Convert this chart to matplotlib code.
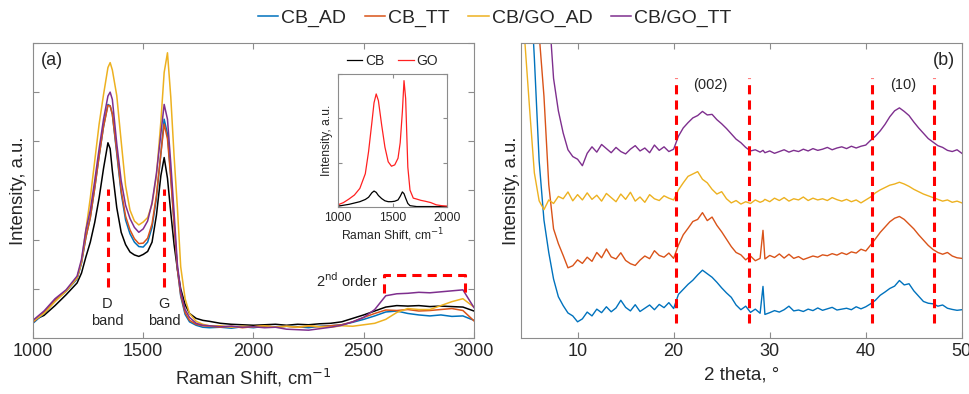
import numpy as np
import matplotlib
matplotlib.use("Agg")
import matplotlib.pyplot as plt

plt.rcParams['font.family'] = ['Liberation Sans', 'DejaVu Sans']

# ---------------- Raman (panel a) ----------------
raman_x = [1000, 1050, 1100, 1150, 1200, 1220, 1240, 1260, 1280, 1300, 1320, 1340, 1350, 1360,
           1380, 1400, 1420, 1440, 1460, 1480, 1500, 1520, 1540, 1560, 1580, 1595, 1610, 1625,
           1640, 1655, 1670, 1690, 1710, 1740, 1770, 1800, 1850, 1900, 1950, 2000, 2050, 2100,
           2150, 2200, 2250, 2300, 2350, 2400, 2450, 2500, 2550, 2600, 2650, 2700, 2750, 2800,
           2850, 2900, 2950, 3000]

raman_cb_ad = [0.30, 0.50, 0.76, 0.95, 1.20, 1.52, 2.05, 2.45, 3.05, 3.70, 4.30, 4.75, 4.72, 4.55,
               3.75, 2.95, 2.40, 2.12, 1.95, 1.86, 1.85, 1.95, 2.25, 2.85, 3.75, 4.45, 4.15, 3.30,
               2.35, 1.40, 0.85, 0.48, 0.33, 0.26, 0.22, 0.21, 0.22, 0.20, 0.23, 0.21, 0.24, 0.22,
               0.24, 0.23, 0.21, 0.24, 0.25, 0.27, 0.32, 0.38, 0.45, 0.53, 0.55, 0.50, 0.47, 0.45,
               0.47, 0.44, 0.45, 0.36]
raman_cb_tt = [0.32, 0.52, 0.78, 0.96, 1.22, 1.54, 2.05, 2.45, 3.05, 3.70, 4.30, 4.73, 4.72, 4.55,
               3.80, 3.00, 2.48, 2.20, 2.02, 1.92, 1.93, 2.03, 2.32, 2.90, 3.75, 4.35, 4.05, 3.25,
               2.30, 1.40, 0.88, 0.52, 0.36, 0.28, 0.25, 0.24, 0.22, 0.24, 0.21, 0.23, 0.25, 0.22,
               0.24, 0.22, 0.24, 0.23, 0.25, 0.27, 0.33, 0.42, 0.50, 0.57, 0.56, 0.58, 0.55, 0.56,
               0.58, 0.60, 0.56, 0.35]
raman_cbgo_ad = [0.34, 0.50, 0.74, 0.95, 1.22, 1.55, 2.20, 2.85, 3.60, 4.35, 4.95, 5.50, 5.60, 5.45,
                 4.93, 4.00, 3.10, 2.60, 2.38, 2.30, 2.36, 2.45, 2.72, 3.30, 4.40, 5.40, 5.80, 4.90,
                 3.70, 2.65, 1.45, 0.80, 0.50, 0.34, 0.28, 0.25, 0.25, 0.22, 0.24, 0.23, 0.25, 0.22,
                 0.24, 0.22, 0.25, 0.23, 0.22, 0.25, 0.24, 0.27, 0.30, 0.38, 0.52, 0.60, 0.58, 0.58,
                 0.66, 0.74, 0.80, 0.63]
raman_cbgo_tt = [0.36, 0.55, 0.80, 0.98, 1.26, 1.60, 2.20, 2.60, 3.20, 3.85, 4.45, 4.92, 5.00, 4.85,
                 3.95, 3.20, 2.70, 2.43, 2.25, 2.15, 2.22, 2.38, 2.75, 3.35, 4.15, 4.75, 4.45, 3.55,
                 2.55, 1.50, 0.95, 0.58, 0.42, 0.30, 0.26, 0.25, 0.23, 0.24, 0.22, 0.23, 0.21, 0.22,
                 0.18, 0.17, 0.16, 0.19, 0.22, 0.26, 0.33, 0.42, 0.58, 0.86, 0.90, 0.91, 0.93, 0.92,
                 0.94, 0.96, 0.98, 0.62]
raman_cb = [0.36, 0.46, 0.66, 0.88, 1.12, 1.32, 1.65, 1.95, 2.35, 2.85, 3.45, 3.97, 3.85, 3.40,
            2.65, 2.15, 1.90, 1.75, 1.69, 1.66, 1.70, 1.76, 1.95, 2.50, 3.30, 3.67, 3.25, 2.55,
            1.90, 1.40, 1.00, 0.68, 0.50, 0.40, 0.36, 0.34, 0.30, 0.28, 0.27, 0.26, 0.27, 0.28,
            0.26, 0.28, 0.27, 0.29, 0.30, 0.33, 0.40, 0.47, 0.55, 0.63, 0.66, 0.65, 0.66, 0.64,
            0.65, 0.64, 0.63, 0.55]

# inset: reference spectra
inset_x = [1000, 1050, 1100, 1150, 1200, 1250, 1280, 1310, 1330, 1350, 1370, 1400, 1430, 1460,
           1490, 1520, 1550, 1570, 1590, 1605, 1620, 1640, 1660, 1690, 1720, 1760, 1800, 1850,
           1900, 1950, 2000]
inset_go = [0.05, 0.10, 0.18, 0.27, 0.42, 0.75, 1.25, 1.90, 2.35, 2.55, 2.40, 1.85, 1.35, 1.02,
            0.92, 0.95, 1.10, 1.45, 2.15, 2.85, 2.45, 0.90, 0.38, 0.20, 0.18, 0.15, 0.13, 0.10,
            0.05, 0.03, 0.02]
inset_cb = [0.02, 0.04, 0.06, 0.09, 0.12, 0.17, 0.22, 0.32, 0.36, 0.33, 0.26, 0.19, 0.14, 0.12,
            0.12, 0.13, 0.16, 0.24, 0.34, 0.30, 0.20, 0.08, 0.03, 0.02, 0.01, 0.01, 0.01, 0.01,
            0.01, 0.01, 0.01]

# ---------------- XRD (panel b) ----------------
xrd_x = list(np.arange(4.0, 29.01, 0.5)) + [29.3] + list(np.arange(29.5, 50.01, 0.5))

xrd_cb_ad = [165, 142, 125, 95, 60, 40, 29, 20, 14, 11, 8.5, 7.5, 5.5, 6.5, 8.8, 7.5, 9.8, 8.6,
             10.6, 8.9, 10.2, 12.8, 10.4, 9.2, 11.3, 9.0, 10.1, 11.2, 9.6, 11.4, 10.3, 12.0, 10.0,
             14.8, 16.5, 18.2, 19.6, 21.4, 23.0, 21.8, 20.6, 18.9, 17.0, 15.3, 13.8, 11.2, 9.6,
             10.8, 8.7, 9.8, 8.4, 17.5, 8.0, 8.6, 9.3, 8.8, 9.6, 10.8, 9.2, 9.5, 9.0, 9.8, 9.3,
             10.2, 9.4, 9.9, 10.4, 9.5, 9.8, 10.1, 9.6, 10.6, 9.9, 10.6, 11.6, 12.8, 14.5, 15.6,
             16.8, 17.6, 19.5, 18.0, 18.4, 16.0, 14.2, 12.4, 11.8, 11.6, 10.8, 11.2, 10.1, 9.7,
             9.4, 9.6]
xrd_cb_tt = [175, 155, 135, 118, 103, 82, 52, 37, 32, 28, 23.8, 24.5, 26.5, 25.3, 27.4, 26.0,
             29.0, 27.2, 30.2, 27.5, 26.8, 28.9, 26.3, 25.2, 24.6, 26.4, 27.8, 26.9, 29.6, 28.0,
             27.4, 28.8, 27.0, 31.5, 35.0, 37.2, 39.5, 40.2, 42.5, 39.8, 41.0, 38.2, 36.0, 33.5,
             31.0, 29.0, 28.2, 26.5, 27.8, 26.2, 27.0, 36.5, 26.8, 28.0, 27.3, 28.5, 27.1, 28.4,
             27.0, 27.6, 26.6, 27.2, 27.8, 27.4, 28.2, 27.9, 28.6, 28.1, 28.9, 28.3, 29.2, 28.8,
             30.1, 29.5, 31.5, 33.6, 35.8, 37.6, 39.4, 40.6, 41.2, 40.2, 38.6, 37.0, 35.0, 33.2,
             31.4, 30.0, 29.0, 28.4, 29.0, 27.8, 27.2, 27.0]
xrd_cbgo_ad = [130, 101, 78, 56, 46.5, 43.5, 46.8, 45.6, 48.0, 47.2, 49.5, 46.5, 48.6, 46.8,
               49.2, 47.0, 48.4, 46.4, 49.0, 47.6, 46.2, 48.8, 47.0, 49.4, 46.4, 47.8, 46.0,
               48.6, 47.2, 46.6, 48.2, 47.4, 46.8, 50.2, 52.6, 54.8, 55.6, 56.4, 53.8, 52.6,
               50.4, 48.8, 49.6, 47.2, 45.8, 46.6, 45.4, 46.2, 45.6, 46.8, 46.0, 46.4, 47.0,
               46.2, 47.4, 46.6, 47.6, 46.4, 47.2, 46.8, 47.8, 46.6, 47.4, 46.8, 47.2, 46.6,
               47.6, 46.9, 46.4, 47.0, 46.2, 46.8, 45.8, 46.8, 47.8, 49.2, 50.2, 51.0, 51.8,
               52.2, 52.8, 52.2, 51.4, 50.4, 49.6, 48.8, 48.2, 47.6, 47.0, 46.4, 46.8, 46.0,
               46.4, 45.8]
xrd_cbgo_tt = [200, 180, 160, 142, 128, 117, 112, 88, 77, 69.5, 63.8, 61.5, 60.6, 58.4, 62.6,
               64.8, 63.0, 65.6, 64.2, 62.8, 64.6, 63.2, 62.4, 64.0, 65.2, 63.4, 64.4, 62.8,
               65.4, 63.6, 64.8, 63.2, 64.0, 68.4, 71.2, 73.0, 74.6, 75.4, 76.8, 75.6, 75.8,
               74.0, 72.6, 71.0, 69.2, 67.4, 66.2, 64.6, 63.4, 63.8, 63.0, 63.6, 62.8, 63.4,
               62.6, 63.2, 63.8, 63.0, 63.6, 63.2, 64.0, 63.4, 64.2, 63.6, 64.0, 64.6, 63.8,
               64.4, 64.8, 64.2, 65.0, 64.4, 65.0, 65.4, 67.0, 68.4, 70.2, 72.4, 75.0, 77.0,
               78.0, 76.8, 75.4, 73.2, 71.2, 69.4, 67.6, 66.4, 65.2, 64.6, 63.6, 63.2, 63.8,
               62.6]

labels = ['CB_AD', 'CB_TT', 'CB/GO_AD', 'CB/GO_TT']
colors = ['#0072BD', '#D95319', '#EDB120', '#7E2F8E']
d_g_pos = [1338, 1596]
xrd_marks = [20.2, 27.8, 40.6, 47.1]

edge = '#8c8c8c'
txt = '#262626'


def style_axes(ax):
    for s in ax.spines.values():
        s.set_color(edge)
        s.set_linewidth(0.8)
    ax.tick_params(direction='in', colors=edge, labelcolor=txt, length=4, width=0.8,
                   top=True, right=True)


fig = plt.figure(figsize=(9.7, 3.94), dpi=100)

#########################################################
ax1 = fig.add_axes([0.034, 0.142, 0.4546, 0.749])
ax1.plot(raman_x, raman_cb, color='black', lw=1.1)
for y, c, l in zip([raman_cb_ad, raman_cb_tt, raman_cbgo_ad, raman_cbgo_tt], colors, labels):
    ax1.plot(raman_x, y, color=c, lw=1.1, label=l)
ax1.set_xlim(1000, 3000)
ax1.set_ylim(0, 6)
ax1.set_xticks([1000, 1500, 2000, 2500, 3000])
ax1.set_yticks(range(7))
ax1.set_yticklabels([])
style_axes(ax1)
ax1.tick_params(labelsize=13)
ax1.set_xlabel('Raman Shift, cm$^{-1}$', fontsize=13.3, color=txt, labelpad=5)
ax1.set_ylabel('Intensity, a.u.', fontsize=13.3, color=txt, labelpad=0.5)
for xp in d_g_pos:
    ax1.plot([xp, xp], [1.03, 3.04], color='red', lw=2.2, ls=(0, (3, 2)))
ax1.text(d_g_pos[0], 0.52, 'D\nband', ha='center', va='center', fontsize=10.5, color=txt,
         linespacing=1.3)
ax1.text(d_g_pos[1], 0.52, 'G\nband', ha='center', va='center', fontsize=10.5, color=txt,
         linespacing=1.3)
ax1.plot([2590, 2590, 2960, 2960], [0.91, 1.28, 1.28, 0.91], color='red', lw=2.2,
         ls=(0, (3, 2)))
ax1.text(2565, 1.17, '2$^{\\rm nd}$ order', ha='right', va='center', fontsize=10.5, color=txt)
ax1.text(0.018, 0.94, '(a)', transform=ax1.transAxes, fontsize=13, color=txt, va='center')

# inset
axi = fig.add_axes([0.3485, 0.4746, 0.1124, 0.3376])
axi.plot(inset_x, inset_cb, color='black', lw=0.9, label='CB')
axi.plot(inset_x, inset_go, color='#FF2020', lw=0.9, label='GO')
axi.set_xlim(1000, 2000)
axi.set_ylim(0, 3)
axi.set_xticks([1000, 1500, 2000])
axi.set_yticks([0, 1, 2, 3])
axi.set_yticklabels([])
style_axes(axi)
axi.tick_params(labelsize=8.8, length=3)
axi.set_xlabel('Raman Shift, cm$^{-1}$', fontsize=8.7, color=txt, labelpad=2)
axi.set_ylabel('Intensity, a.u.', fontsize=8.7, color=txt, labelpad=0)
axi.legend(loc='lower center', bbox_to_anchor=(0.5, 0.98), ncol=2, frameon=False,
           fontsize=10, handlelength=1.1, handletextpad=0.2, columnspacing=1.0,
           borderpad=0.1, labelcolor=txt)

#########################################################
ax2 = fig.add_axes([0.537, 0.142, 0.4546, 0.749])
for y, c, l in zip([xrd_cb_ad, xrd_cb_tt, xrd_cbgo_ad, xrd_cbgo_tt], colors, labels):
    ax2.plot(xrd_x, y, color=c, lw=1.0)
ax2.set_xlim(4.1, 50)
ax2.set_ylim(0, 100)
ax2.set_xticks([10, 20, 30, 40, 50])
ax2.set_yticks([])
style_axes(ax2)
ax2.tick_params(labelsize=13)
ax2.set_xlabel('2 theta, °', fontsize=13.5, color=txt, labelpad=5)
ax2.set_ylabel('Intensity, a.u.', fontsize=13.3, color=txt, labelpad=1)
for xp in xrd_marks:
    ax2.plot([xp, xp], [5.1, 88], color='red', lw=2.2, ls=(0, (3, 2)))
ax2.text(23.8, 85.7, '(002)', ha='center', va='center', fontsize=10.5, color=txt)
ax2.text(43.9, 85.7, '(10)', ha='center', va='center', fontsize=10.5, color=txt)
ax2.text(0.985, 0.94, '(b)', transform=ax2.transAxes, fontsize=13, color=txt,
         ha='right', va='center')

handles, labs = ax1.get_legend_handles_labels()
fig.legend(handles, labs, loc='center', bbox_to_anchor=(0.51, 0.955), ncol=4, frameon=False,
           fontsize=14, handlelength=1.05, handletextpad=0.15, columnspacing=0.95,
           labelcolor=txt)

fig.savefig('out.png', dpi=100)
